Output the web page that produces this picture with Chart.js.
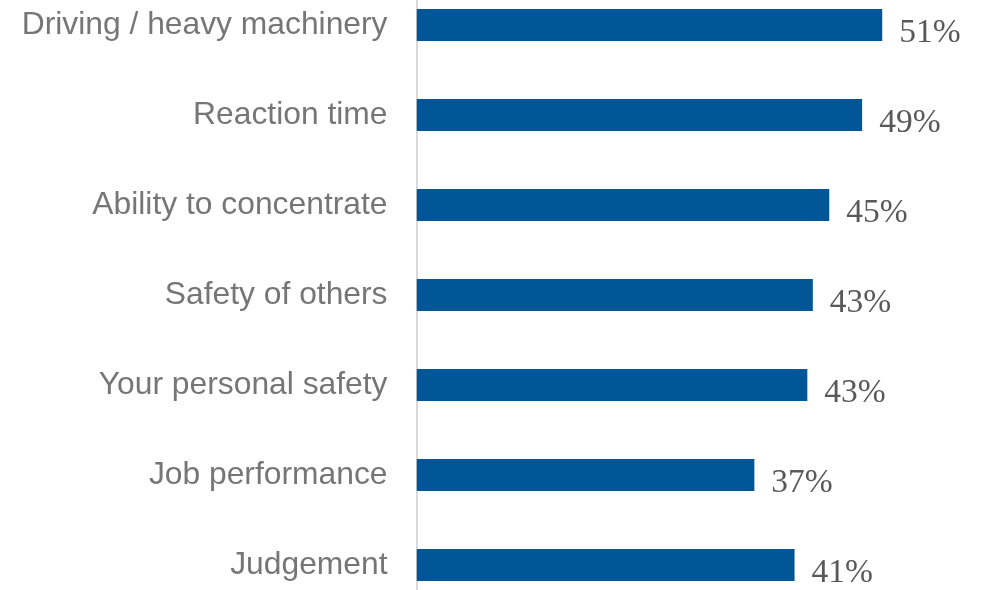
<!DOCTYPE html>
<html>
<head>
<meta charset="utf-8">
<script src="https://cdn.jsdelivr.net/npm/chart.js@4/dist/chart.umd.min.js"></script>
<style>
  html, body { margin: 0; padding: 0; background: #ffffff; overflow: hidden; }
  #wrap { width: 986px; height: 590px; overflow: hidden; position: relative; }
  #c { position: absolute; left: 0; top: -20px; }
</style>
</head>
<body>
<div id="wrap"><canvas id="c" width="986" height="630"></canvas></div>
<script>
const categories = [
  "Driving / heavy machinery",
  "Reaction time",
  "Ability to concentrate",
  "Safety of others",
  "Your personal safety",
  "Job performance",
  "Judgement"
];
const values = [51, 48.8, 45.2, 43.4, 42.8, 37.0, 41.4];
const valueLabels = ["51%", "49%", "45%", "43%", "43%", "37%", "41%"];

const barLabelPlugin = {
  id: 'barLabels',
  afterDatasetsDraw(chart) {
    const ctx = chart.ctx;
    const meta = chart.getDatasetMeta(0);
    ctx.save();
    ctx.font = '33.5px "Liberation Serif", "Times New Roman", serif';
    ctx.fillStyle = '#595959';
    ctx.textAlign = 'left';
    ctx.textBaseline = 'alphabetic';
    meta.data.forEach((el, i) => {
      ctx.fillText(valueLabels[i], el.x + 17, el.y + 17);
    });
    ctx.restore();
  }
};

new Chart(document.getElementById('c'), {
  type: 'bar',
  data: {
    labels: categories,
    datasets: [{
      data: values,
      backgroundColor: '#005696',
      borderWidth: 0,
      categoryPercentage: 1.0,
      barPercentage: 0.356
    }]
  },
  options: {
    indexAxis: 'y',
    responsive: false,
    animation: false,
    events: [],
    layout: { padding: { left: 0, right: 21.6, top: 0, bottom: 0 } },
    plugins: { legend: { display: false }, tooltip: { enabled: false } },
    scales: {
      x: {
        display: false,
        min: 0,
        max: 60
      },
      y: {
        afterFit(scale) {
          scale.width = 416.5;
          scale.paddingTop = 0;
          scale.paddingBottom = 0;
        },
        grid: { display: false, drawTicks: false },
        border: { display: true, color: '#d9d9d9', width: 2 },
        ticks: {
          padding: 29,
          color: '#767676',
          font: { family: '"Liberation Sans", Arial, sans-serif', size: 31.8 }
        }
      }
    }
  },
  plugins: [barLabelPlugin]
});
</script>
</body>
</html>
